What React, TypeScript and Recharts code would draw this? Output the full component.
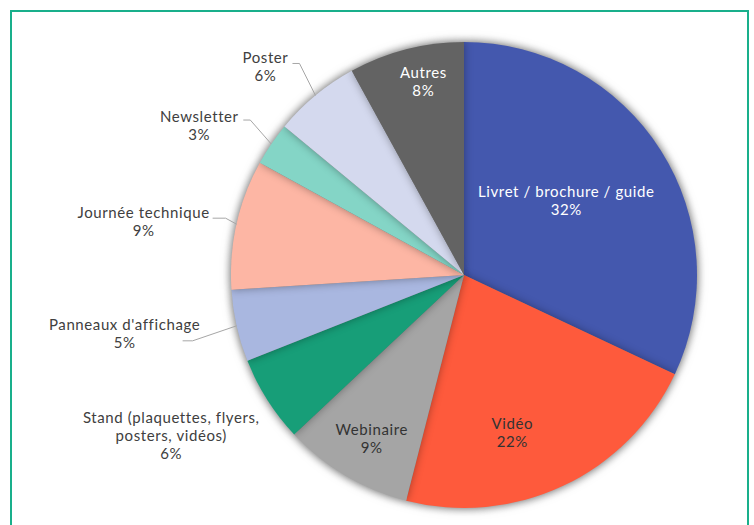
import { PieChart, Pie, Cell } from 'recharts';

const CATEGORIES = [
  'Livret / brochure / guide',
  'Vidéo',
  'Webinaire',
  'Stand (plaquettes, flyers,\nposters, vidéos)',
  "Panneaux d'affichage",
  'Journée technique',
  'Newsletter',
  'Poster',
  'Autres',
];
const SHARES = [32, 22, 9, 6, 5, 9, 3, 6, 8];
const COLORS = ['#4458ae', '#fe5a3c', '#a5a5a5', '#179e78', '#a9b7e0', '#fdb6a4', '#84d5c6', '#d4d9ee', '#636363'];

const data = CATEGORIES.map((name, i) => ({ name, value: SHARES[i] }));

const FONT = 'Lato, sans-serif';
const RAD = Math.PI / 180;
const R = 233;

// label placement: inside labels sit on the mid-angle radius, outside ones are offset from the slice edge
type Inside = { kind: 'in'; r: number; dx: number; dy: number; color: string };
type Outside = { kind: 'out'; text: [number, number]; line?: [number, number][] };
const LABELS: Record<number, Inside | Outside> = {
  0: { kind: 'in', r: 0.53, dx: -2, dy: -8, color: '#ffffff' },
  1: { kind: 'in', r: 0.77, dx: -28, dy: -5, color: '#333333' },
  2: { kind: 'in', r: 0.82, dx: 5, dy: -1, color: '#333333' },
  3: { kind: 'out', text: [-96, 36] },
  4: { kind: 'out', text: [-112, 8], line: [[-44, 15], [-54, 15]] },
  5: { kind: 'out', text: [-93, -3], line: [[-11, -6], [-24, -6]] },
  6: { kind: 'out', text: [-72, -19], line: [[-21, -24], [-28, -24]] },
  7: { kind: 'out', text: [-50, -29], line: [[-16, -32], [-23, -32]] },
  8: { kind: 'in', r: 0.84, dx: 8, dy: -4, color: '#ffffff' },
};

function renderLabel(props: any) {
  const { cx, cy, midAngle, outerRadius, index, name, value } = props;
  const cfg = LABELS[index];
  const lines = [...String(name).split('\n'), `${value}%`];
  const ux = Math.cos(-midAngle * RAD);
  const uy = Math.sin(-midAngle * RAD);
  let x: number;
  let y: number;
  let color = '#404040';
  let path: string | null = null;
  if (cfg.kind === 'in') {
    x = cx + outerRadius * cfg.r * ux + cfg.dx;
    y = cy + outerRadius * cfg.r * uy + cfg.dy;
    color = cfg.color;
  } else {
    const ex = cx + outerRadius * ux;
    const ey = cy + outerRadius * uy;
    x = ex + cfg.text[0];
    y = ey + cfg.text[1];
    if (cfg.line) {
      path = `M${ex},${ey}` + cfg.line.map(([dx, dy]) => `L${ex + dx},${ey + dy}`).join('');
    }
  }
  const lh = 18;
  const top = y - ((lines.length - 1) * lh) / 2;
  return (
    <g key={`lbl-${index}`}>
      {path && <path d={path} stroke="#a6a6a6" strokeWidth={1} fill="none" />}
      {lines.map((l, i) => (
        <text
          key={i}
          x={x}
          y={top + i * lh + 5.5}
          textAnchor="middle"
          fill={color}
          fontSize={15}
          letterSpacing={0.6}
          fontFamily={FONT}
        >
          {l}
        </text>
      ))}
    </g>
  );
}

export default function App() {
  return (
    <div style={{ position: 'fixed', left: 0, top: 0, width: 754, height: 525, background: '#ffffff' }}>
      <style>{`.pie-shadow { filter: drop-shadow(0 0 4px rgba(0,0,0,0.35)); }`}</style>
      <div
        style={{
          position: 'absolute',
          left: 10,
          top: 10,
          width: 735,
          height: 530,
          border: '2px solid #19af8b',
        }}
      />
      <div style={{ position: 'absolute', left: 0, top: 0 }}>
        <PieChart width={754} height={525} margin={{ top: 0, right: 0, bottom: 0, left: 0 }}>
          <Pie
            data={data}
            dataKey="value"
            nameKey="name"
            cx={464}
            cy={275}
            outerRadius={R}
            startAngle={90}
            endAngle={-270}
            stroke="none"
            className="pie-shadow"
            isAnimationActive={false}
          >
            {data.map((_, i) => (
              <Cell key={i} fill={COLORS[i]} />
            ))}
          </Pie>
          <Pie
            data={data}
            dataKey="value"
            nameKey="name"
            cx={464}
            cy={275}
            outerRadius={R}
            startAngle={90}
            endAngle={-270}
            stroke="none"
            fill="transparent"
            label={renderLabel}
            labelLine={false}
            isAnimationActive={false}
          >
            {data.map((_, i) => (
              <Cell key={i} fill="transparent" />
            ))}
          </Pie>
        </PieChart>
      </div>
    </div>
  );
}
